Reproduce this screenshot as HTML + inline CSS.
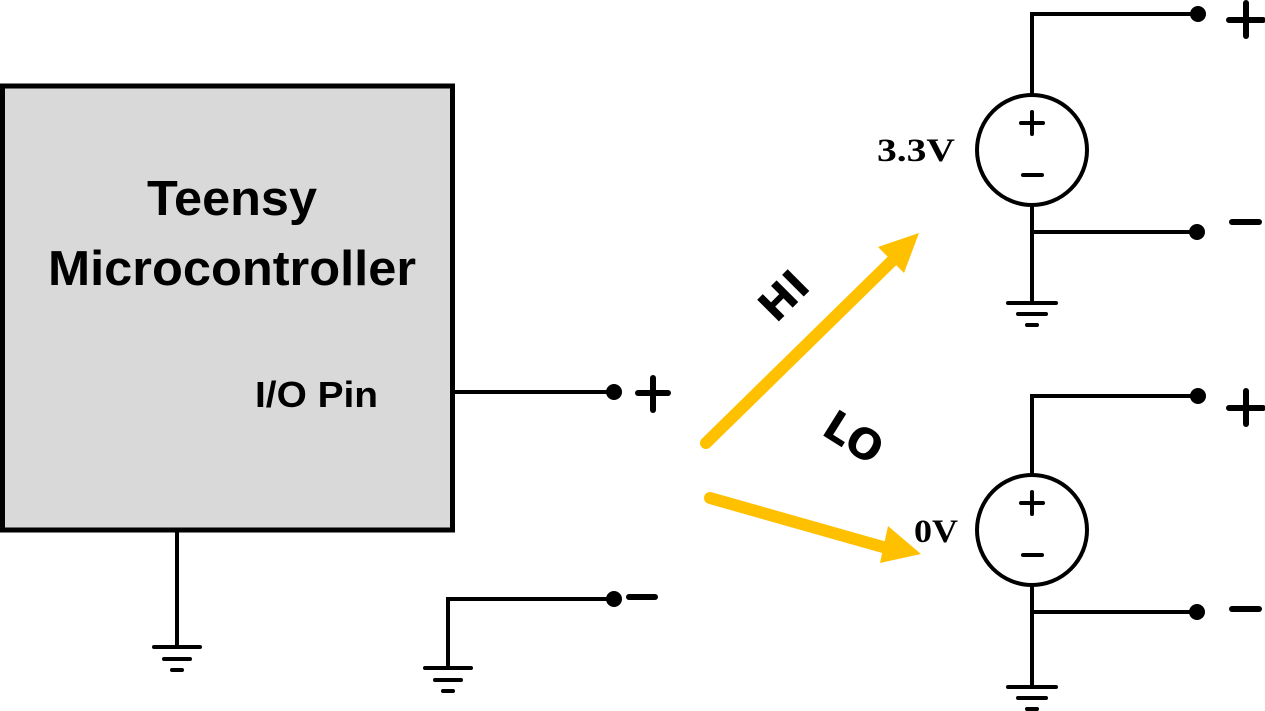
<!DOCTYPE html>
<html><head><style>html,body{margin:0;padding:0;background:#fff}svg{display:block}</style></head>
<body>
<svg width="1265" height="711" viewBox="0 0 1265 711" xmlns="http://www.w3.org/2000/svg">
<g stroke="#000" stroke-width="4" fill="none" stroke-linecap="round">
  <rect x="2.5" y="86" width="450" height="444" fill="#d9d9d9" stroke-width="5" stroke-linecap="butt"/>
  <line x1="177" y1="532" x2="177" y2="647"/>
  <line x1="154" y1="647" x2="200" y2="647"/>
  <line x1="164" y1="659" x2="190" y2="659"/>
  <line x1="172" y1="670" x2="182" y2="670"/>
  <line x1="453" y1="392" x2="614" y2="392"/>
  <polyline points="614,599 448,599 448,668"/>
  <line x1="425" y1="668" x2="471" y2="668"/>
  <line x1="435" y1="680" x2="461" y2="680"/>
  <line x1="443" y1="691" x2="453" y2="691"/>
  <polyline points="1198,14 1032,14 1032,94"/>
  <circle cx="1032" cy="150" r="55"/>
  <polyline points="1032,206 1032,303"/>
  <line x1="1032" y1="232" x2="1197" y2="232"/>
  <line x1="1008" y1="303" x2="1056" y2="303"/>
  <line x1="1018" y1="314" x2="1046" y2="314"/>
  <line x1="1027" y1="325" x2="1037" y2="325"/>
  <polyline points="1198,396 1032,396 1032,474"/>
  <circle cx="1032" cy="530" r="55"/>
  <polyline points="1032,586 1032,687"/>
  <line x1="1032" y1="612" x2="1197" y2="612"/>
  <line x1="1008" y1="687" x2="1056" y2="687"/>
  <line x1="1018" y1="698" x2="1046" y2="698"/>
  <line x1="1027" y1="709" x2="1037" y2="709"/>
  <line x1="1021" y1="123" x2="1043" y2="123"/><line x1="1032" y1="112" x2="1032" y2="134"/>
  <line x1="1023" y1="175" x2="1042" y2="175"/>
  <line x1="1021" y1="503" x2="1043" y2="503"/><line x1="1032" y1="492" x2="1032" y2="514"/>
  <line x1="1023" y1="555" x2="1042" y2="555"/>
  <g stroke-width="6">
  <line x1="638" y1="393" x2="668" y2="393"/><line x1="653" y1="378" x2="653" y2="410"/>
  <line x1="629" y1="597" x2="655" y2="597"/>
  <line x1="1229" y1="20" x2="1263" y2="20"/><line x1="1246" y1="3" x2="1246" y2="36"/>
  <line x1="1232" y1="222" x2="1259" y2="222"/>
  <line x1="1229" y1="408" x2="1263" y2="408"/><line x1="1246" y1="391" x2="1246" y2="424"/>
  <line x1="1232" y1="609" x2="1259" y2="609"/>
  </g>
</g>
<g fill="#000">
  <circle cx="614" cy="392" r="8"/><circle cx="614" cy="599" r="8"/>
  <circle cx="1198" cy="14" r="8"/><circle cx="1197" cy="232" r="8"/>
  <circle cx="1198" cy="396" r="8"/><circle cx="1197" cy="612" r="8"/>
</g>
<g stroke="#ffc000" stroke-width="12" stroke-linecap="round" fill="none">
  <line x1="706" y1="443" x2="895" y2="258"/>
  <line x1="710" y1="498" x2="890" y2="549"/>
</g>
<polygon points="919,233 878,247 904,273" fill="#ffc000"/>
<polygon points="888,526 921,554 880,563" fill="#ffc000"/>
<g font-family="Liberation Sans, Arial, sans-serif" font-weight="bold" fill="#000">
  <text x="232" y="215" font-size="49" text-anchor="middle" textLength="170" lengthAdjust="spacingAndGlyphs">Teensy</text>
  <text x="48" y="285" font-size="49" textLength="368" lengthAdjust="spacingAndGlyphs">Microcontroller</text>
  <text x="255" y="407" font-size="36" textLength="123" lengthAdjust="spacingAndGlyphs">I/O Pin</text>
</g>
<g font-family="DejaVu Sans, sans-serif" font-weight="bold" fill="#000" font-size="42">
  <text transform="translate(786,298) rotate(-45)" text-anchor="middle" dominant-baseline="middle">HI</text>
  <text transform="translate(852,440) rotate(32)" text-anchor="middle" dominant-baseline="middle">LO</text>
</g>
<g font-family="Liberation Serif, serif" font-weight="bold" fill="#000" font-size="33">
  <text x="877" y="161" textLength="78" lengthAdjust="spacingAndGlyphs">3.3V</text>
  <text x="914" y="542" textLength="44" lengthAdjust="spacingAndGlyphs">0V</text>
</g>
</svg>
</body></html>
